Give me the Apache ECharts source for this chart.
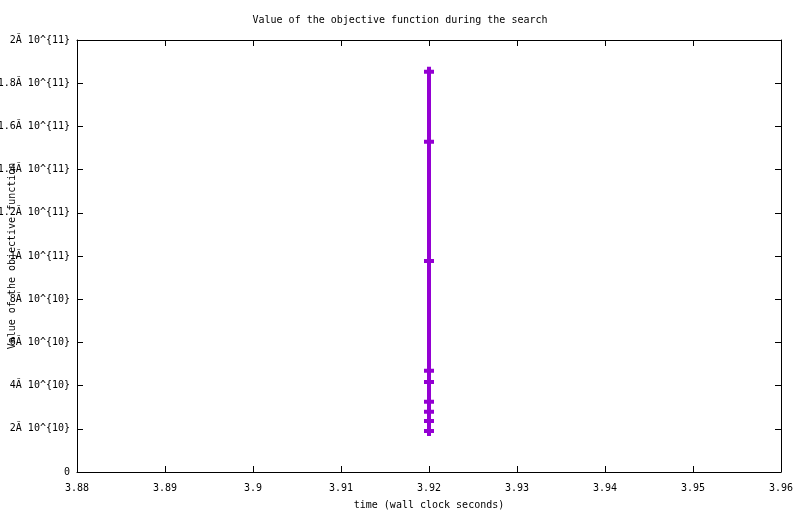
<!DOCTYPE html>
<html>
<head>
<meta charset="utf-8">
<script src="https://cdn.jsdelivr.net/npm/echarts@6/dist/echarts.min.js"></script>
<style>html,body{margin:0;padding:0;background:#fff}#c{width:800px;height:514px}</style>
</head>
<body>
<div id="c"></div>
<script>
const times = [3.92, 3.92, 3.92, 3.92, 3.92, 3.92, 3.92, 3.92, 3.92];
const objValues = [1.853e11, 1.529e11, 0.977e11, 4.69e10, 4.17e10, 3.25e10, 2.79e10, 2.36e10, 1.90e10];
const yTickLabels = {0: '0', 2e10: '2Ă 10^{10}', 4e10: '4Ă 10^{10}', 6e10: '6Ă 10^{10}', 8e10: '8Ă 10^{10}', 1e11: '1Ă 10^{11}', 1.2e11: '1.2Ă 10^{11}', 1.4e11: '1.4Ă 10^{11}', 1.6e11: '1.6Ă 10^{11}', 1.8e11: '1.8Ă 10^{11}', 2e11: '2Ă 10^{11}'};
const titleText = 'Value of the objective function during the search';
const xName = 'time (wall clock seconds)';
const yName = 'Value of the objective function';

const font = 'DejaVu Sans Mono';
const chart = echarts.init(document.getElementById('c'));
const data = times.map((t, i) => [t, objValues[i]]);
const plusPath = 'path://M3,0 L7,0 L7,3 L10,3 L10,7 L7,7 L7,10 L3,10 L3,7 L0,7 L0,3 L3,3 Z';
const axisLine = {show: true, onZero: false, lineStyle: {color: '#000', width: 1}};
const tick = {show: true, inside: true, length: 6, lineStyle: {color: '#000'}};
chart.setOption({
  animation: false,
  backgroundColor: '#fff',
  title: {text: titleText, left: 'center', top: 10, textStyle: {fontFamily: font, fontSize: 10, fontWeight: 'normal', color: '#000'}},
  grid: {left: 77, right: 19, top: 40, bottom: 42, containLabel: false, outerBoundsMode: 'none'},
  xAxis: [{
    type: 'value', min: 3.88, max: 3.96, interval: 0.01, position: 'bottom',
    name: xName, nameLocation: 'middle', nameGap: 28, nameMoveOverlap: false,
    nameTextStyle: {fontFamily: font, fontSize: 10, color: '#000'},
    axisLine: axisLine, axisTick: tick, splitLine: {show: false},
    axisLabel: {fontFamily: font, fontSize: 10, color: '#000', margin: 11, formatter: v => String(parseFloat(v.toFixed(2)))}
  }, {
    type: 'value', min: 3.88, max: 3.96, interval: 0.01, position: 'top',
    axisLine: axisLine, axisTick: tick, splitLine: {show: false}, axisLabel: {show: false}
  }],
  yAxis: [{
    type: 'value', min: 0, max: 2e11, interval: 2e10, position: 'left',
    name: yName, nameLocation: 'middle', nameGap: 60, nameRotate: 90, nameMoveOverlap: false,
    nameTextStyle: {fontFamily: font, fontSize: 10, color: '#000'},
    axisLine: axisLine, axisTick: tick, splitLine: {show: false},
    axisLabel: {fontFamily: font, fontSize: 10, color: '#000', margin: 7, formatter: v => yTickLabels[v] !== undefined ? yTickLabels[v] : String(v)}
  }, {
    type: 'value', min: 0, max: 2e11, interval: 2e10, position: 'right',
    axisLine: axisLine, axisTick: tick, splitLine: {show: false}, axisLabel: {show: false}
  }],
  series: [{
    type: 'line', xAxisIndex: 0, yAxisIndex: 0, data: data,
    lineStyle: {color: '#9400D3', width: 4},
    itemStyle: {color: '#9400D3'},
    symbol: plusPath, symbolSize: [10, 10], showSymbol: true
  }]
});
</script>
</body>
</html>
